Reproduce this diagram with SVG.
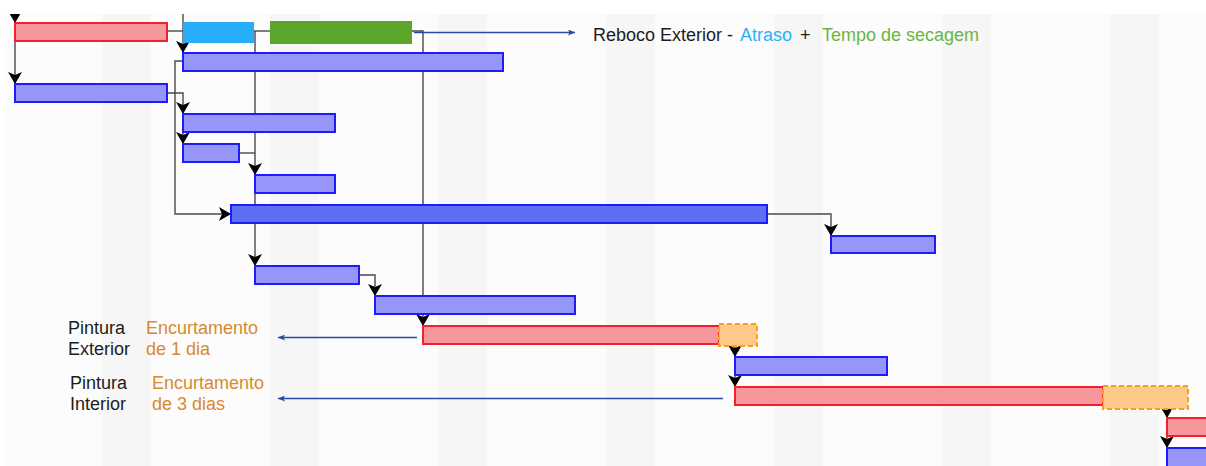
<svg xmlns="http://www.w3.org/2000/svg" width="1206" height="466" viewBox="0 0 1206 466">
  <defs>
    <style>
      .lnk { fill: none; stroke: #4a4a4a; stroke-width: 1.4; }
      .nav { fill: none; stroke: #2b48a6; stroke-width: 1.5; }
      .red { fill: #f8979b; stroke: #f11f2f; stroke-width: 2; }
      .blu { fill: #9595fa; stroke: #1d1dfb; stroke-width: 2; }
      .dkb { fill: #5f6ff5; stroke: #1d1dfb; stroke-width: 2; }
      .org { fill: #fcc98b; stroke: #f6a214; stroke-width: 2; stroke-dasharray: 5 3; }
      .txt { font-family: "Liberation Sans", Arial, Helvetica, sans-serif; font-size: 18px; fill: #1c1c1c; }
      .org-t { fill: #d9892c; }
      .stripe { fill: #f6f6f6; }
    </style>
    <marker id="ah" markerUnits="userSpaceOnUse" viewBox="0 0 12 14" markerWidth="12" markerHeight="14" refX="12" refY="7" orient="auto">
      <path d="M0,0 L12,7 L0,14 L3,7 Z" fill="#000"/>
    </marker>
    <marker id="nh" markerUnits="userSpaceOnUse" viewBox="0 0 7 6" markerWidth="7" markerHeight="6" refX="7" refY="3" orient="auto">
      <path d="M0,0 L7,3 L0,6 L1.5,3 Z" fill="#2b48a6"/>
    </marker>
    <clipPath id="chart">
      <rect x="0" y="14" width="1206" height="452"/>
    </clipPath>
  </defs>

  <!-- timeline background with alternating day columns -->
  <rect x="0" y="0" width="1206" height="466" fill="#ffffff"/>
  <rect x="4" y="14" width="1202" height="452" fill="#fcfcfc"/>
  <g id="grid">
    <rect class="stripe" x="102" y="14" width="49" height="452"/>
    <rect class="stripe" x="270" y="14" width="49" height="452"/>
    <rect class="stripe" x="438" y="14" width="49" height="452"/>
    <rect class="stripe" x="606" y="14" width="49" height="452"/>
    <rect class="stripe" x="774" y="14" width="49" height="452"/>
    <rect class="stripe" x="942" y="14" width="49" height="452"/>
    <rect class="stripe" x="1110" y="14" width="49" height="452"/>
  </g>

  <!-- dependency links -->
  <g id="connectors" clip-path="url(#chart)">
    <path class="lnk" d="M15,4 V23" marker-end="url(#ah)"/>
    <path class="lnk" d="M15,41 V84" marker-end="url(#ah)"/>
    <path class="lnk" d="M167,31 H183"/>
    <path class="lnk" d="M183,8 V53" marker-end="url(#ah)"/>
    <path class="lnk" d="M254,31 H270"/>
    <path class="lnk" d="M255,31 V175" marker-end="url(#ah)"/>
    <path class="lnk" d="M255,193 V266" marker-end="url(#ah)"/>
    <path class="lnk" d="M412,31 H423 V326" marker-end="url(#ah)"/>
    <path class="lnk" d="M183,61 H175 V214 H231" marker-end="url(#ah)"/>
    <path class="lnk" d="M167,93 H183 V114" marker-end="url(#ah)"/>
    <path class="lnk" d="M183,132 V144" marker-end="url(#ah)"/>
    <path class="lnk" d="M239,153 H255"/>
    <path class="lnk" d="M767,214 H831 V236" marker-end="url(#ah)"/>
    <path class="lnk" d="M359,275 H375 V296" marker-end="url(#ah)"/>
    <path class="lnk" d="M735,346 V357" marker-end="url(#ah)"/>
    <path class="lnk" d="M735,375 V387" marker-end="url(#ah)"/>
    <path class="lnk" d="M1167,409 V418" marker-end="url(#ah)"/>
    <path class="lnk" d="M1167,436 V448" marker-end="url(#ah)"/>
    <path class="nav" d="M414,32.5 H575" marker-end="url(#nh)"/>
    <path class="nav" d="M417,337.5 H278" marker-end="url(#nh)"/>
    <path class="nav" d="M723,398.5 H278" marker-end="url(#nh)"/>
  </g>

  <!-- task bars -->
  <g id="task-reboco-ext"><rect class="red" x="15" y="23" width="152" height="18"/></g>
  <g id="atraso"><rect x="183" y="22" width="71" height="21" fill="#28aef8"/></g>
  <g id="secagem"><rect x="270" y="21" width="142" height="23" fill="#5aa52a"/></g>
  <g id="task-2"><rect class="blu" x="183" y="53" width="320" height="18"/></g>
  <g id="task-3"><rect class="blu" x="15" y="84" width="152" height="18"/></g>
  <g id="task-4"><rect class="blu" x="183" y="114" width="152" height="18"/></g>
  <g id="task-5"><rect class="blu" x="183" y="144" width="56" height="18"/></g>
  <g id="task-6"><rect class="blu" x="255" y="175" width="80" height="18"/></g>
  <g id="task-7"><rect class="dkb" x="231" y="205" width="536" height="18"/></g>
  <g id="task-8"><rect class="blu" x="831" y="236" width="104" height="17"/></g>
  <g id="task-9"><rect class="blu" x="255" y="266" width="104" height="18"/></g>
  <g id="task-10"><rect class="blu" x="375" y="296" width="200" height="18"/></g>
  <g id="task-pintura-ext"><rect class="red" x="423" y="326" width="296" height="18"/></g>
  <g id="encurt-1"><rect class="org" x="719" y="324" width="38" height="22"/></g>
  <g id="task-12"><rect class="blu" x="735" y="357" width="152" height="18"/></g>
  <g id="task-pintura-int"><rect class="red" x="735" y="387" width="368" height="18"/></g>
  <g id="encurt-3"><rect class="org" x="1103" y="386" width="85" height="23"/></g>
  <g id="task-14"><rect class="red" x="1167" y="418" width="45" height="18"/></g>
  <g id="task-15"><rect class="blu" x="1167" y="448" width="45" height="22"/></g>

  <!-- annotations -->
  <g id="label-reboco">
    <text class="txt" x="593" y="41">Reboco Exterior -</text>
    <text class="txt" x="740" y="41" style="fill:#2cb0f8">Atraso</text>
    <text class="txt" x="800" y="41">+</text>
    <text class="txt" x="822" y="41" style="fill:#6bb543">Tempo de secagem</text>
  </g>
  <g id="label-pintura-ext">
    <text class="txt" x="68" y="334">Pintura</text>
    <text class="txt" x="68" y="355">Exterior</text>
    <text class="txt org-t" x="146" y="334">Encurtamento</text>
    <text class="txt org-t" x="146" y="355">de 1 dia</text>
  </g>
  <g id="label-pintura-int">
    <text class="txt" x="70" y="389">Pintura</text>
    <text class="txt" x="70" y="410">Interior</text>
    <text class="txt org-t" x="152" y="389">Encurtamento</text>
    <text class="txt org-t" x="152" y="410">de 3 dias</text>
  </g>
</svg>
